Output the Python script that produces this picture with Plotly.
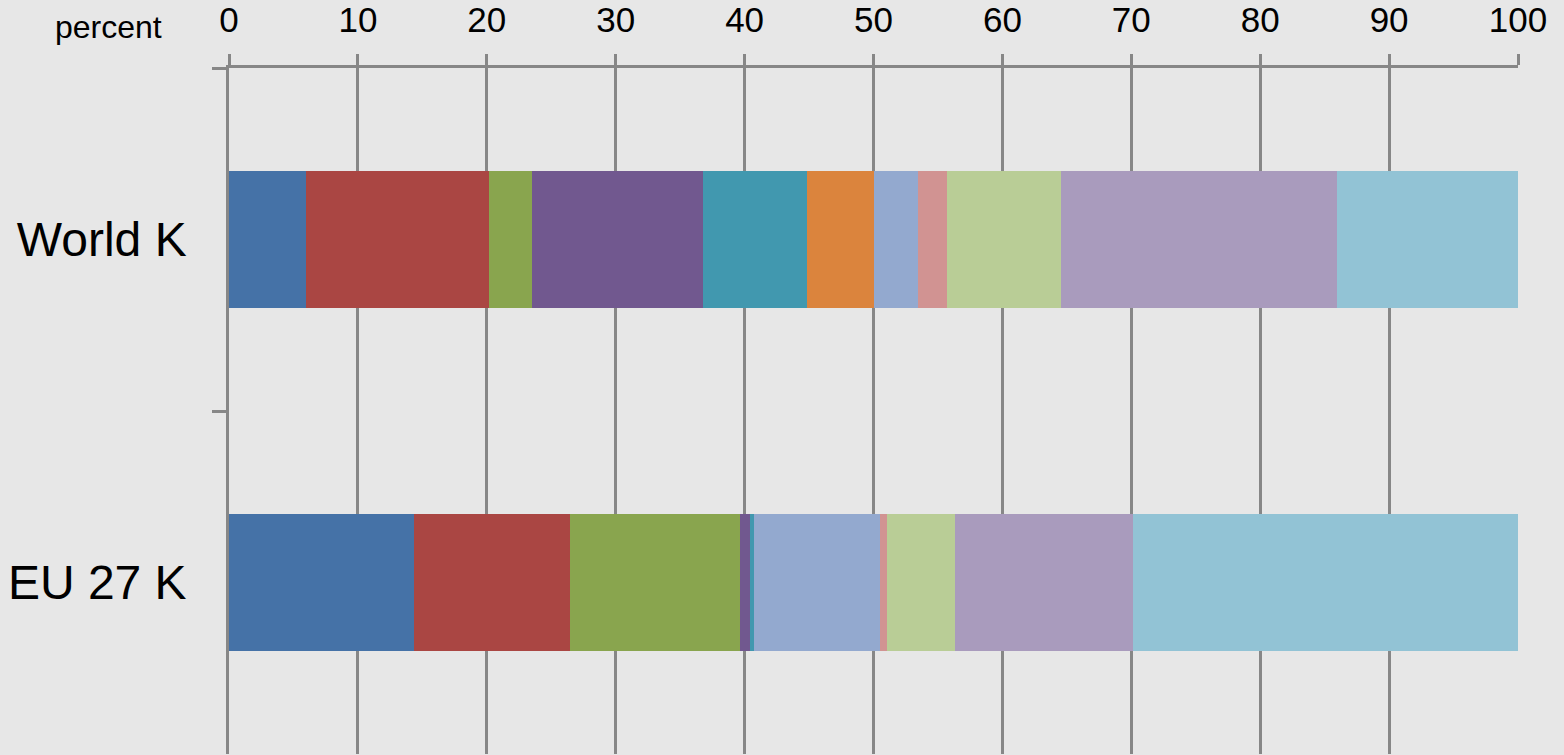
import plotly.graph_objects as go

# Categories (top to bottom)
categories = ["World K", "EU 27 K"]

# Share of each component, percent (World K, EU 27 K)
series_1 = [5.94, 14.32]
series_2 = [14.26, 12.17]
series_3 = [3.27, 13.15]
series_4 = [13.30, 0.80]
series_5 = [8.06, 0.29]
series_6 = [5.17, 0.0]
series_7 = [3.49, 9.80]
series_8 = [2.19, 0.49]
series_9 = [8.84, 5.30]
series_10 = [21.47, 13.83]
series_11 = [14.01, 29.85]

tick_values = [0, 10, 20, 30, 40, 50, 60, 70, 80, 90, 100]

all_series = [series_1, series_2, series_3, series_4, series_5, series_6,
              series_7, series_8, series_9, series_10, series_11]
colors = ["#4572A7", "#AA4643", "#89A54E", "#71588F", "#4198AF", "#DB843D",
          "#93A9CF", "#D19392", "#B9CD96", "#A99BBD", "#92C3D5"]

fig = go.Figure()
for i, (vals, col) in enumerate(zip(all_series, colors)):
    fig.add_trace(go.Bar(
        y=categories, x=vals, orientation="h",
        marker=dict(color=col, line=dict(width=0)),
        name=f"Series {i + 1}", width=0.4, showlegend=False,
        hoverinfo="x+y",
    ))

W, H = 1564, 755
L, R, T, B = 229, 46, 68, 1
fig.update_layout(
    width=W, height=H,
    barmode="stack",
    paper_bgcolor="#e7e7e7",
    plot_bgcolor="#e7e7e7",
    margin=dict(l=L, r=R, t=T, b=B, pad=0),
    font=dict(family="Liberation Sans, Arial, sans-serif", color="#000000"),
    xaxis=dict(
        side="top", range=[0, 100], tickvals=tick_values,
        ticktext=[str(v) for v in tick_values],
        showgrid=True, gridcolor="#878787", gridwidth=2.5,
        ticks="outside", ticklen=11, tickwidth=2.5, tickcolor="#878787",
        showline=True, linecolor="#878787", linewidth=2.5,
        tickfont=dict(size=35), zeroline=False,
        ticklabelstandoff=8,
    ),
    yaxis=dict(
        categoryorder="array", categoryarray=categories,
        range=[1.5, -0.5], tickson="boundaries",
        ticks="outside", ticklen=14, tickwidth=2.5, tickcolor="#878787",
        showline=True, linecolor="#878787", linewidth=2.5,
        showgrid=False, zeroline=False,
        tickfont=dict(size=48), ticklabelstandoff=30,
    ),
    annotations=[dict(
        text="percent", xref="paper", yref="paper",
        x=(108 - L) / (W - L - R), y=1 + (T - 27) / (H - T - B),
        xanchor="center", yanchor="middle", showarrow=False,
        font=dict(size=32, color="#000000"),
    )],
)

fig.write_html("out.html")
